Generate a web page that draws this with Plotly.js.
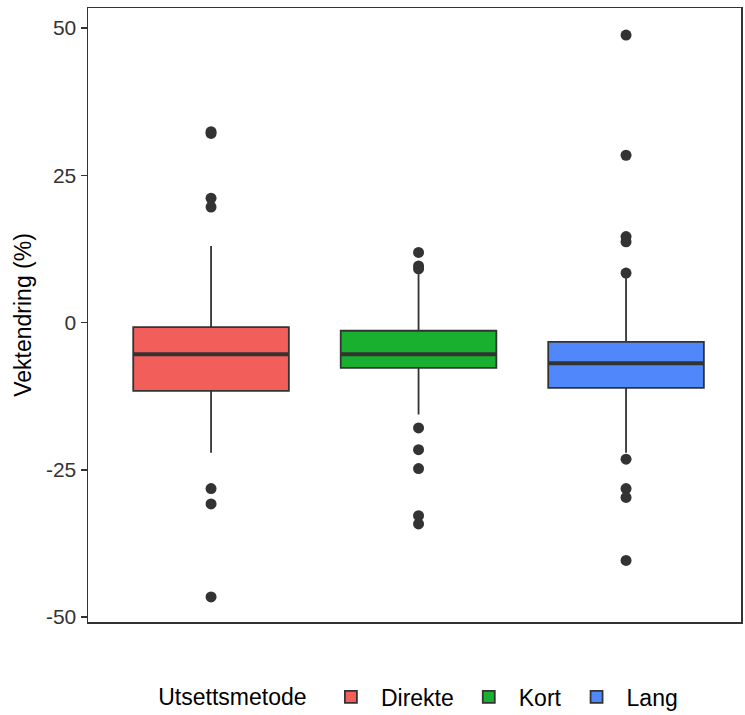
<!DOCTYPE html>
<html>
<head>
<meta charset="utf-8">
<script src="https://cdn.plot.ly/plotly-3.0.1.min.js"></script>
<style>html,body{margin:0;padding:0;background:#fff;}</style>
</head>
<body>
<div id="chart" style="width:745px;height:715px;"></div>
<script>
// Data
const categories = ["Direkte", "Kort", "Lang"];
const colors = ["#F25E5A", "#1AB02F", "#5088FB"];
const q1 = [-11.6, -7.7, -11.1];
const medians = [-5.4, -5.4, -6.9];
const q3 = [-0.8, -1.4, -3.3];
const lowerWhisker = [-22.1, -15.6, -22.1];
const upperWhisker = [13.0, 8.2, 8.2];
const outliersDirekte = [32.1, 32.4, 21.1, 19.6, -28.2, -30.8, -46.6];
const outliersKort = [11.9, 9.6, 9.1, -17.9, -21.6, -24.8, -32.8, -34.2];
const outliersLang = [48.8, 28.4, 14.6, 13.7, 8.4, -23.2, -28.2, -29.7, -40.4];
const outliers = [outliersDirekte, outliersKort, outliersLang];
const tickVals = [-50, -25, 0, 25, 50];

const boxWidth = 0.75;
const traces = [];
categories.forEach((c, i) => {
  traces.push({
    type: "box",
    name: c,
    x: [i],
    q1: [q1[i]], median: [medians[i]], q3: [q3[i]],
    lowerfence: [lowerWhisker[i]], upperfence: [upperWhisker[i]],
    width: boxWidth,
    fillcolor: colors[i],
    line: {color: "#333333", width: 1.8},
    whiskerwidth: 0,
    boxpoints: false,
    hoverinfo: "skip",
    showlegend: true
  });
});
categories.forEach((c, i) => {
  traces.push({
    type: "scatter", mode: "lines",
    x: [i - boxWidth / 2, i + boxWidth / 2],
    y: [medians[i], medians[i]],
    line: {color: "#333333", width: 4},
    showlegend: false, hoverinfo: "skip"
  });
  traces.push({
    type: "scatter", mode: "markers",
    x: outliers[i].map(() => i),
    y: outliers[i],
    marker: {color: "#333333", size: 11},
    showlegend: false, hoverinfo: "skip"
  });
});

const layout = {
  width: 745, height: 715,
  margin: {l: 88, r: 4, t: 8, b: 93, autoexpand: false},
  paper_bgcolor: "#ffffff", plot_bgcolor: "#ffffff",
  font: {family: "Liberation Sans, Arial, sans-serif", color: "#000000", size: 22},
  showlegend: true,
  xaxis: {
    type: "linear",
    range: [-0.593, 2.554],
    showticklabels: false, ticks: "", showgrid: false, zeroline: false,
    showline: true, linecolor: "#333333", linewidth: 1.5, mirror: true
  },
  yaxis: {
    range: [-50.85, 53.4],
    tickvals: tickVals,
    ticktext: tickVals.map(String),
    ticks: "outside", ticklen: 6, tickwidth: 1.5, tickcolor: "#333333",
    tickfont: {size: 21, color: "#333333"},
    showgrid: false, zeroline: false,
    showline: true, linecolor: "#333333", linewidth: 1.5, mirror: true,
    title: {text: "Vektendring (%)", font: {size: 23, color: "#000000"}, standoff: 8}
  },
  legend: {
    orientation: "h",
    x: 0.508, xanchor: "center",
    y: -0.1221, yanchor: "middle",
    title: {text: "Utsettsmetode ", side: "left", font: {size: 23}},
    font: {size: 23},
    itemwidth: 50,
    traceorder: "normal"
  }
};

Plotly.newPlot("chart", traces, layout, {displayModeBar: false, staticPlot: true});
</script>
</body>
</html>
